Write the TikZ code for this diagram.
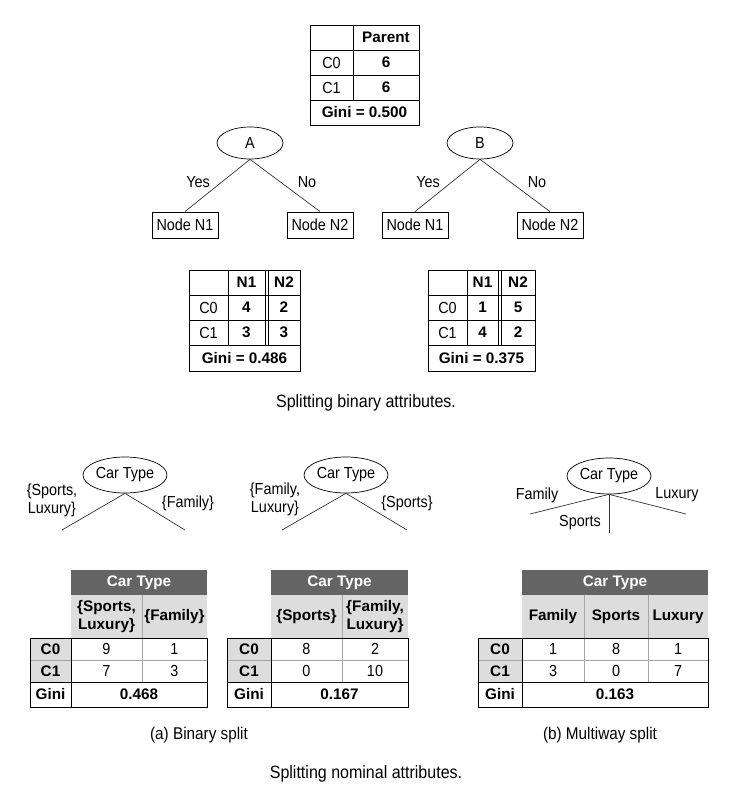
\documentclass[tikz,border=0pt]{standalone}
\usepackage{fontspec}
\setmainfont{Liberation Sans}
\newfontfamily\narrowfont{Liberation Sans}[FakeStretch=0.9]
\usetikzlibrary{shapes.geometric}
\definecolor{hdrdark}{RGB}{100,100,100}
\definecolor{hdrlight}{RGB}{221,221,221}
\definecolor{gridgray}{RGB}{165,165,165}
\begin{document}
\begin{tikzpicture}[x=1pt,y=-1pt,
  txt/.style={inner sep=0pt, font=\narrowfont\fontsize{16}{18}\selectfont},
  btxt/.style={inner sep=0pt, font=\fontsize{15.3}{17.5}\selectfont\bfseries},
  wtxt/.style={inner sep=0pt, text=white, font=\fontsize{15.3}{17.5}\selectfont\bfseries},
  captext/.style={inner sep=0pt, font=\narrowfont\fontsize{17.8}{20}\selectfont},
  subcaptext/.style={inner sep=0pt, font=\narrowfont\fontsize{17}{19}\selectfont},
  oval/.style={ellipse, draw, line width=0.7pt, inner sep=0pt, font=\narrowfont\fontsize{16}{18}\selectfont},
  leaf/.style={draw, line width=0.9pt, inner sep=0pt, minimum width=66pt, minimum height=26pt, font=\narrowfont\fontsize{16}{18}\selectfont},
  branch/.style={line width=0.7pt, black!80},
  tline/.style={line width=0.9pt},
  gline/.style={line width=0.8pt, gridgray}]
\useasboundingbox (0,0) rectangle (735,792);

% ---------- Parent table ----------
\draw[tline] (310,25) rectangle (419,125);
\draw[tline] (353,25) -- (353,100);
\draw[tline] (310,50) -- (419,50) (310,75) -- (419,75) (310,100) -- (419,100);
\node[btxt] (pH) at (386,37.5) {Parent};
\node[txt] (pC0) at (331.5,62.5) {C0};
\node[btxt] (pV0) at (386,62.5) {6};
\node[txt] (pC1) at (331.5,87.5) {C1};
\node[btxt] (pV1) at (386,87.5) {6};
\node[btxt] (pG) at (364.5,112.5) {Gini = 0.500};

% ---------- Tree A ----------
\node[oval, minimum width=66pt, minimum height=32pt] (A) at (250,143) {A};
\node[leaf] (an1) at (185,225) {Node N1};
\node[leaf] (an2) at (320,225) {Node N2};
\draw[branch] (A.south) -- (an1.north);
\draw[branch] (A.south) -- (an2.north);
\node[txt] (ayes) at (198,182) {Yes};
\node[txt] (ano) at (307,182) {No};

% ---------- Tree B ----------
\node[oval, minimum width=66pt, minimum height=32pt] (B) at (480,143) {B};
\node[leaf] (bn1) at (415,225) {Node N1};
\node[leaf] (bn2) at (550,225) {Node N2};
\draw[branch] (B.south) -- (bn1.north);
\draw[branch] (B.south) -- (bn2.north);
\node[txt] (byes) at (428,182) {Yes};
\node[txt] (bno) at (537,182) {No};

% ---------- Table A ----------
\draw[tline] (189,270) rectangle (300,371);
\draw[tline] (228,270) -- (228,345) (265,270) -- (265,345) (268,270) -- (268,345);
\draw[tline] (189,295) -- (300,295) (189,320) -- (300,320) (189,345) -- (300,345);
\node[btxt] (taH1) at (246.5,282.5) {N1};
\node[btxt] (taH2) at (284,282.5) {N2};
\node[txt] (taC0) at (208.5,307.5) {C0};
\node[btxt] (ta01) at (246.5,307.5) {4};
\node[btxt] (ta02) at (284,307.5) {2};
\node[txt] (taC1) at (208.5,332.5) {C1};
\node[btxt] (ta11) at (246.5,332.5) {3};
\node[btxt] (ta12) at (284,332.5) {3};
\node[btxt] (taG) at (244.5,358) {Gini = 0.486};

% ---------- Table B ----------
\draw[tline] (428,270) rectangle (535,371);
\draw[tline] (467,270) -- (467,345) (498,270) -- (498,345) (501,270) -- (501,345);
\draw[tline] (428,295) -- (535,295) (428,320) -- (535,320) (428,345) -- (535,345);
\node[btxt] (tbH1) at (482.5,282.5) {N1};
\node[btxt] (tbH2) at (518,282.5) {N2};
\node[txt] (tbC0) at (447.5,307.5) {C0};
\node[btxt] (tb01) at (482.5,307.5) {1};
\node[btxt] (tb02) at (518,307.5) {5};
\node[txt] (tbC1) at (447.5,332.5) {C1};
\node[btxt] (tb11) at (482.5,332.5) {4};
\node[btxt] (tb12) at (518,332.5) {2};
\node[btxt] (tbG) at (481.5,358) {Gini = 0.375};

\node[captext] (cap1) at (366,403) {Splitting binary attributes.};

% ---------- Bottom tree 1 ----------
\node[oval, minimum width=84pt, minimum height=36pt] (ct1) at (125,475) {Car Type};
\coordinate (ct1l) at (62,530);
\coordinate (ct1r) at (185,530);
\draw[branch] (ct1.south) -- (ct1l);
\draw[branch] (ct1.south) -- (ct1r);
\node[txt, align=center] (ct1a) at (52,500) {\{Sports,\\Luxury\}};
\node[txt] (ct1b) at (188,503) {\{Family\}};

% ---------- Bottom tree 2 ----------
\node[oval, minimum width=84pt, minimum height=36pt] (ct2) at (346,475) {Car Type};
\coordinate (ct2l) at (282,530);
\coordinate (ct2r) at (407,530);
\draw[branch] (ct2.south) -- (ct2l);
\draw[branch] (ct2.south) -- (ct2r);
\node[txt, align=center] (ct2a) at (275,499) {\{Family,\\Luxury\}};
\node[txt] (ct2b) at (407,503) {\{Sports\}};

% ---------- Bottom tree 3 ----------
\node[oval, minimum width=84pt, minimum height=36pt] (ct3) at (609,476) {Car Type};
\coordinate (ct3l) at (530,514);
\coordinate (ct3r) at (686,514);
\coordinate (ct3m) at (609,533);
\draw[branch] (ct3.south) -- (ct3l);
\draw[branch] (ct3.south) -- (ct3r);
\draw[branch] (ct3.south) -- (ct3m);
\node[txt] (ct3a) at (537,495) {Family};
\node[txt] (ct3b) at (677,495) {Luxury};
\node[txt] (ct3c) at (580,523) {Sports};

% ---------- Bottom table 1 ----------
\fill[hdrdark] (71,570) rectangle (207,595);
\fill[hdrlight] (71,595) rectangle (207,638);
\fill[hdrlight] (30,638) rectangle (71,682);
\draw[gline] (142,595) -- (142,682) (71,660) -- (207,660) (30,660) -- (71,660);
\draw[tline] (30,638) rectangle (207,707);
\draw[tline] (71,638) -- (71,707) (30,682) -- (207,682);
\node[wtxt] (t1h) at (139,582.5) {Car Type};
\node[btxt, align=center] (t1s1) at (106.5,616.5) {\{Sports,\\Luxury\}};
\node[btxt] (t1s2) at (174.5,616.5) {\{Family\}};
\node[btxt] (t1c0) at (50.5,649) {C0};
\node[txt] (t1a) at (106.5,649) {9};
\node[txt] (t1b) at (174.5,649) {1};
\node[btxt] (t1c1) at (50.5,671) {C1};
\node[txt] (t1c) at (106.5,671) {7};
\node[txt] (t1d) at (174.5,671) {3};
\node[btxt] (t1g) at (50.5,694.5) {Gini};
\node[btxt] (t1gv) at (139,694.5) {0.468};

% ---------- Bottom table 2 ----------
\fill[hdrdark] (271,570) rectangle (408,595);
\fill[hdrlight] (271,595) rectangle (408,638);
\fill[hdrlight] (227,638) rectangle (271,682);
\draw[gline] (342,595) -- (342,682) (271,660) -- (408,660) (227,660) -- (271,660);
\draw[tline] (227,638) rectangle (408,707);
\draw[tline] (271,638) -- (271,707) (227,682) -- (408,682);
\node[wtxt] (t2h) at (339.5,582.5) {Car Type};
\node[btxt] (t2s1) at (306.5,616.5) {\{Sports\}};
\node[btxt, align=center] (t2s2) at (375,616.5) {\{Family,\\Luxury\}};
\node[btxt] (t2c0) at (249,649) {C0};
\node[txt] (t2a) at (306.5,649) {8};
\node[txt] (t2b) at (375,649) {2};
\node[btxt] (t2c1) at (249,671) {C1};
\node[txt] (t2c) at (306.5,671) {0};
\node[txt] (t2d) at (375,671) {10};
\node[btxt] (t2g) at (249,694.5) {Gini};
\node[btxt] (t2gv) at (339.5,694.5) {0.167};

% ---------- Bottom table 3 ----------
\fill[hdrdark] (522,570) rectangle (708,595);
\fill[hdrlight] (522,595) rectangle (708,638);
\fill[hdrlight] (478,638) rectangle (522,682);
\draw[gline] (584,595) -- (584,682) (648,595) -- (648,682) (522,660) -- (708,660) (478,660) -- (522,660);
\draw[tline] (478,638) rectangle (708,707);
\draw[tline] (522,638) -- (522,707) (478,682) -- (708,682);
\node[wtxt] (t3h) at (615,582.5) {Car Type};
\node[btxt] (t3s1) at (553,616.5) {Family};
\node[btxt] (t3s2) at (616,616.5) {Sports};
\node[btxt] (t3s3) at (678,616.5) {Luxury};
\node[btxt] (t3c0) at (500,649) {C0};
\node[txt] (t3a) at (553,649) {1};
\node[txt] (t3b) at (616,649) {8};
\node[txt] (t3x) at (678,649) {1};
\node[btxt] (t3c1) at (500,671) {C1};
\node[txt] (t3c) at (553,671) {3};
\node[txt] (t3d) at (616,671) {0};
\node[txt] (t3y) at (678,671) {7};
\node[btxt] (t3g) at (500,694.5) {Gini};
\node[btxt] (t3gv) at (615,694.5) {0.163};

\node[subcaptext] (capa) at (199,735) {(a) Binary split};
\node[subcaptext] (capb) at (600,735) {(b) Multiway split};
\node[captext] (cap2) at (366,774) {Splitting nominal attributes.};
\end{tikzpicture}
\end{document}
